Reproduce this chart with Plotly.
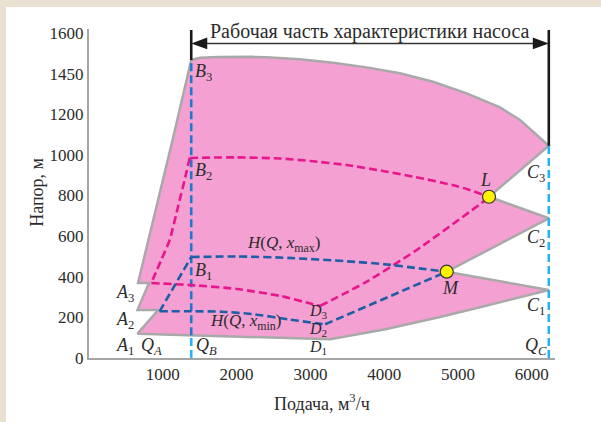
import plotly.graph_objects as go

# ---------------- data ----------------
QB = 1385          # Q_B, m3/h
QC = 6230          # Q_C, m3/h

# outer boundary of the working zone (pink area)
top_x = [1385, 1504, 1750, 1951, 2200, 2408, 2859, 3306, 3763, 4214, 4661, 5118, 5569, 5840, 6230]
top_y = [1467, 1478, 1482, 1483, 1483, 1481, 1471, 1454, 1431, 1402, 1360, 1303, 1234, 1172, 1045]
right_x = [5420, 6230, 4847, 6230]          # L, C2, M, C1
right_y = [794, 688, 425, 335]
bottom_x = [5298, 4756, 4000, 3266, 657]    # ... D1, A1
bottom_y = [250, 202, 140, 92, 120]
notch_x = [937, 657, 812, 664]              # A2, A2 tip, A3, A3 tip
notch_y = [236, 236, 369, 369]
left_x = [904, 1150, 1385]                  # up to B3
left_y = [729, 1100, 1467]

# characteristic curves (magenta)
h_mid_x = [1364, 2000, 2600, 3000, 3492, 4000, 4394, 5000, 5420]
h_mid_y = [985, 988, 982, 970, 950, 920, 893, 845, 794]
b2a3_x = [1364, 1318, 1206, 1093, 979, 844]
b2a3_y = [985, 911, 745, 581, 483, 369]
a3d3_x = [844, 1385, 2000, 2600, 3000, 3130]
a3d3_y = [369, 359, 340, 305, 268, 256]
d3l_x = [3130, 3763, 4440, 5343, 5420]
d3l_y = [256, 376, 532, 770, 794]

# characteristic curves (blue)
hmax_x = [1385, 2000, 2700, 3500, 4000, 4500, 4847]
hmax_y = [497, 500, 493, 476, 462, 440, 425]
a2b1_x = [957, 1385]
a2b1_y = [230, 497]
hmin_x = [957, 1385, 1800, 2245, 2700, 3200]
hmin_y = [230, 230, 228, 215, 190, 166]
d2m_x = [3200, 4847]
d2m_y = [166, 425]

# operating points
pts_x = [5420, 4847]   # L, M
pts_y = [794, 425]

y_tickvals = [0, 200, 400, 600, 800, 1000, 1200, 1400, 1600]
y_ticktext = ["0", "200", "400", "600", "800", "1000", "1200", "1450", "1600"]
x_tickvals = [1000, 2000, 3000, 4000, 5000, 6000]

# ---------------- styles ----------------
PINK = "#f5a0d2"
EDGE = "#a9a9a9"
MAG = "#e8168c"
BLUE = "#1c5fa6"
QBLUE = "#2277cc"
CYAN = "#27b5ef"
DASH = "8px,4px"
TXT = "#2b2b2b"
SERIF = "Liberation Serif"

fig = go.Figure()

poly_x = top_x + right_x + bottom_x + notch_x + left_x
poly_y = top_y + right_y + bottom_y + notch_y + left_y
fig.add_trace(go.Scatter(x=poly_x, y=poly_y, mode="lines", fill="toself",
                         fillcolor=PINK, line=dict(color=EDGE, width=2.5),
                         hoverinfo="skip", showlegend=False))

def dashed(x, y, color, width=2.6):
    fig.add_trace(go.Scatter(x=x, y=y, mode="lines",
                             line=dict(color=color, width=width, dash=DASH, shape="spline", smoothing=0.6),
                             hoverinfo="skip", showlegend=False))

# vertical Q_B / Q_C lines
dashed([QB, QB], [0, 112], CYAN)
dashed([QB, QB], [112, top_y[0]], QBLUE)
dashed([QC, QC], [0, top_y[-1]], CYAN)

dashed(h_mid_x, h_mid_y, MAG)
dashed(b2a3_x, b2a3_y, MAG)
dashed(a3d3_x, a3d3_y, MAG)
dashed(d3l_x, d3l_y, MAG)
dashed(hmax_x, hmax_y, BLUE)
dashed(a2b1_x, a2b1_y, BLUE)
dashed(hmin_x, hmin_y, BLUE)
dashed(d2m_x, d2m_y, BLUE)

fig.add_trace(go.Scatter(x=pts_x, y=pts_y, mode="markers",
                         marker=dict(size=13, color="#fff200", line=dict(color="#333333", width=1.2)),
                         hoverinfo="skip", showlegend=False, cliponaxis=False))

# ---------------- working-range marker ----------------
Y_TOP = 1615
Y_ARROW = 1549
px_x = 6314 / 466.0
px_y = 1620 / 329.0
shapes = [
    dict(type="line", x0=QB, x1=QB, y0=top_y[0], y1=Y_TOP, line=dict(color="#1a1a1a", width=2.6)),
    dict(type="line", x0=QC, x1=QC, y0=top_y[-1], y1=Y_TOP, line=dict(color="#1a1a1a", width=2.6)),
    dict(type="line", x0=QB + 8 * px_x, x1=QC - 8 * px_x, y0=Y_ARROW, y1=Y_ARROW,
         line=dict(color="#333333", width=1.5)),
    dict(type="path", fillcolor="#1a1a1a", line=dict(width=0),
         path=f"M {QB},{Y_ARROW} L {QB + 16 * px_x},{Y_ARROW + 5.8 * px_y} L {QB + 16 * px_x},{Y_ARROW - 5.8 * px_y} Z"),
    dict(type="path", fillcolor="#1a1a1a", line=dict(width=0),
         path=f"M {QC},{Y_ARROW} L {QC - 16 * px_x},{Y_ARROW + 5.8 * px_y} L {QC - 16 * px_x},{Y_ARROW - 5.8 * px_y} Z"),
    # beige frame strips (top / left)
    dict(type="rect", xref="paper", yref="paper", x0=-0.2, x1=1.2, y0=1.067, y1=1.2,
         fillcolor="#e9e2d2", line=dict(width=0), layer="below"),
    dict(type="rect", xref="paper", yref="paper", x0=-0.2, x1=-0.178, y0=-0.3, y1=1.2,
         fillcolor="#e9e2d2", line=dict(width=0), layer="below"),
]

def lab(x, y, text, size=18, anchor="center"):
    return dict(x=x, y=y, text=text, showarrow=False, xanchor=anchor, yanchor="middle",
                font=dict(family=SERIF, size=size, color=TXT))

annotations = [
    lab((QB + QC) / 2, 1608, "Рабочая часть характеристики насоса", size=20),
    lab(1545, 1408, "<i>B</i><sub>3</sub>"),
    lab(1545, 917, "<i>B</i><sub>2</sub>"),
    lab(1545, 425, "<i>B</i><sub>1</sub>"),
    lab(484, 319, "<i>A</i><sub>3</sub>"),
    lab(484, 187, "<i>A</i><sub>2</sub>"),
    lab(484, 56, "<i>A</i><sub>1</sub>"),
    lab(844, 56, "<i>Q</i><sub><i>A</i></sub>"),
    lab(1589, 56, "<i>Q</i><sub><i>B</i></sub>"),
    lab(2642, 561, "<i>H</i>(<i>Q</i>, <i>x</i><sub>max</sub>)", size=17),
    lab(2127, 177, "<i>H</i>(<i>Q</i>, <i>x</i><sub>min</sub>)", size=17),
    lab(3107, 228, "<i>D</i><sub>3</sub>", size=16),
    lab(3107, 142, "<i>D</i><sub>2</sub>", size=16),
    lab(3107, 54, "<i>D</i><sub>1</sub>", size=16),
    lab(4892, 343, "<i>M</i>"),
    lab(5375, 876, "<i>L</i>"),
    lab(6050, 909, "<i>C</i><sub>3</sub>"),
    lab(6050, 589, "<i>C</i><sub>2</sub>"),
    lab(6050, 253, "<i>C</i><sub>1</sub>"),
    lab(6050, 56, "<i>Q</i><sub><i>C</i></sub>"),
    # axis titles
    dict(xref="paper", yref="paper", x=-0.1116, y=0.505, text="Напор, м", textangle=-90,
         showarrow=False, xanchor="center", yanchor="middle",
         font=dict(family=SERIF, size=18, color=TXT)),
    dict(xref="paper", yref="paper", x=0.5, y=-0.134, text="Подача, м<sup>3</sup>/ч",
         showarrow=False, xanchor="center", yanchor="middle",
         font=dict(family=SERIF, size=18, color=TXT)),
]

fig.update_layout(
    width=601, height=422,
    margin=dict(l=89, r=46, t=29, b=64),
    paper_bgcolor="white", plot_bgcolor="rgba(0,0,0,0)",
    shapes=shapes, annotations=annotations,
    font=dict(family=SERIF, size=17, color=TXT),
    xaxis=dict(range=[0, 6314], tickvals=x_tickvals, showgrid=False, zeroline=False,
               showline=True, linecolor="#a6a6a6", linewidth=2, ticks="", automargin=False,
               tickfont=dict(family=SERIF, size=17, color=TXT)),
    yaxis=dict(range=[0, 1620], tickvals=y_tickvals, ticktext=y_ticktext, showgrid=False,
               zeroline=False, showline=True, linecolor="#a6a6a6", linewidth=2, ticks="", automargin=False,
               tickfont=dict(family=SERIF, size=17, color=TXT)),
)

fig.write_html("out.html", config={"displayModeBar": False},
               post_script="document.body.style.margin='0';document.body.style.overflow='hidden';")
